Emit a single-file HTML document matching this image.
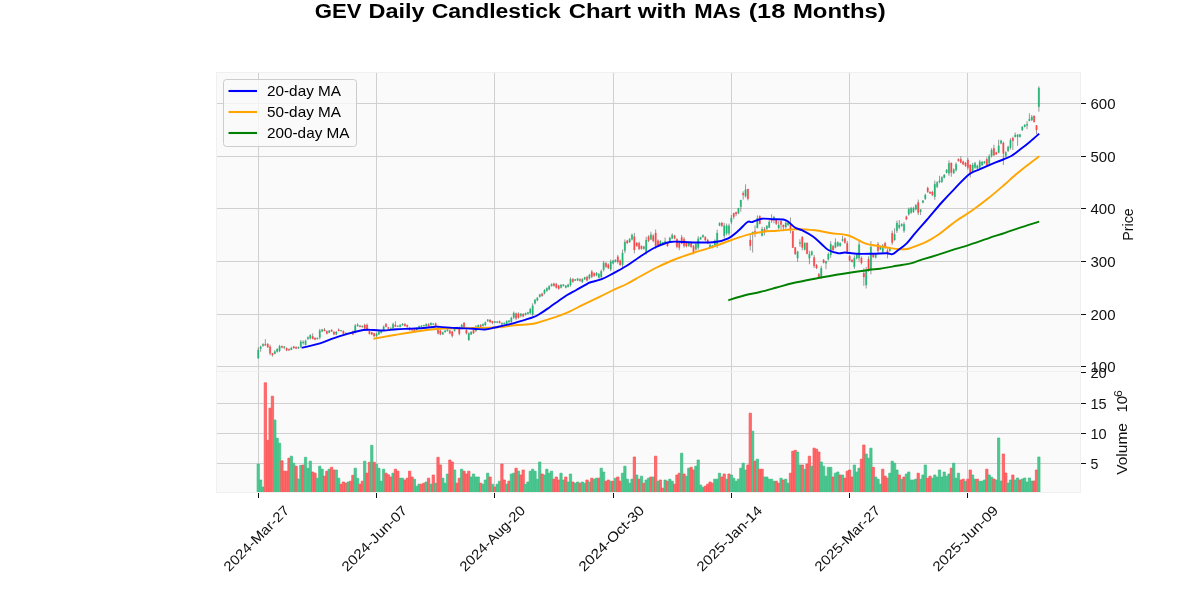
<!DOCTYPE html>
<html><head><meta charset="utf-8"><title>GEV Chart</title>
<style>html,body{margin:0;padding:0;background:#fff;width:1200px;height:600px;overflow:hidden}</style></head>
<body>
<svg width="1200" height="600" viewBox="0 0 1200 600" style="position:absolute;left:0;top:0;will-change:transform;font-family:'Liberation Sans',sans-serif">
<rect x="216" y="72" width="864" height="420" fill="#fafafa"/>
<path d="M258.5 72V492 M376.5 72V492 M494.5 72V492 M613.5 72V492 M731.5 72V492 M849.5 72V492 M967.5 72V492 M216 366.5H1080 M216 314.5H1080 M216 261.5H1080 M216 208.5H1080 M216 156.5H1080 M216 103.5H1080 M216 463.5H1080 M216 433.5H1080 M216 403.5H1080" stroke="#d0d0d0" stroke-width="1" fill="none" shape-rendering="crispEdges"/>
<path d="M216.5 72.5H1080.5V492.5H216.5ZM216 371.5H1080" stroke="#f0f0f0" stroke-width="1" fill="none" shape-rendering="crispEdges"/>
<path d="M257.10 492V464.0H259.40V492" fill="#4dc790" stroke="#3bbd84" stroke-width="0.7"/>
<path d="M259.47 492V480.0H261.77V492" fill="#4dc790" stroke="#3bbd84" stroke-width="0.7"/>
<path d="M261.83 492V487.0H264.13V492" fill="#4dc790" stroke="#3bbd84" stroke-width="0.7"/>
<path d="M264.20 492V382.8H266.50V492" fill="#fd6b6c" stroke="#fd4e50" stroke-width="0.7"/>
<path d="M266.56 492V440.3H268.86V492" fill="#fd6b6c" stroke="#fd4e50" stroke-width="0.7"/>
<path d="M268.93 492V408.2H271.23V492" fill="#fd6b6c" stroke="#fd4e50" stroke-width="0.7"/>
<path d="M271.29 492V396.2H273.59V492" fill="#fd6b6c" stroke="#fd4e50" stroke-width="0.7"/>
<path d="M273.66 492V420.0H275.96V492" fill="#4dc790" stroke="#3bbd84" stroke-width="0.7"/>
<path d="M276.02 492V438.2H278.32V492" fill="#4dc790" stroke="#3bbd84" stroke-width="0.7"/>
<path d="M278.39 492V443.2H280.69V492" fill="#4dc790" stroke="#3bbd84" stroke-width="0.7"/>
<path d="M280.75 492V460.8H283.05V492" fill="#fd6b6c" stroke="#fd4e50" stroke-width="0.7"/>
<path d="M283.12 492V471.2H285.42V492" fill="#fd6b6c" stroke="#fd4e50" stroke-width="0.7"/>
<path d="M285.49 492V471.2H287.79V492" fill="#fd6b6c" stroke="#fd4e50" stroke-width="0.7"/>
<path d="M287.85 492V458.2H290.15V492" fill="#fd6b6c" stroke="#fd4e50" stroke-width="0.7"/>
<path d="M290.22 492V456.2H292.52V492" fill="#4dc790" stroke="#3bbd84" stroke-width="0.7"/>
<path d="M292.58 492V463.3H294.88V492" fill="#4dc790" stroke="#3bbd84" stroke-width="0.7"/>
<path d="M294.95 492V466.2H297.25V492" fill="#fd6b6c" stroke="#fd4e50" stroke-width="0.7"/>
<path d="M297.31 492V479.0H299.61V492" fill="#4dc790" stroke="#3bbd84" stroke-width="0.7"/>
<path d="M299.68 492V465.3H301.98V492" fill="#4dc790" stroke="#3bbd84" stroke-width="0.7"/>
<path d="M302.04 492V465.0H304.34V492" fill="#fd6b6c" stroke="#fd4e50" stroke-width="0.7"/>
<path d="M304.41 492V457.3H306.71V492" fill="#4dc790" stroke="#3bbd84" stroke-width="0.7"/>
<path d="M306.78 492V468.3H309.08V492" fill="#4dc790" stroke="#3bbd84" stroke-width="0.7"/>
<path d="M309.14 492V461.2H311.44V492" fill="#4dc790" stroke="#3bbd84" stroke-width="0.7"/>
<path d="M311.51 492V472.0H313.81V492" fill="#fd6b6c" stroke="#fd4e50" stroke-width="0.7"/>
<path d="M313.87 492V473.2H316.17V492" fill="#fd6b6c" stroke="#fd4e50" stroke-width="0.7"/>
<path d="M316.24 492V478.2H318.54V492" fill="#4dc790" stroke="#3bbd84" stroke-width="0.7"/>
<path d="M318.60 492V466.2H320.90V492" fill="#4dc790" stroke="#3bbd84" stroke-width="0.7"/>
<path d="M320.97 492V469.2H323.27V492" fill="#4dc790" stroke="#3bbd84" stroke-width="0.7"/>
<path d="M323.33 492V476.2H325.63V492" fill="#fd6b6c" stroke="#fd4e50" stroke-width="0.7"/>
<path d="M325.70 492V471.2H328.00V492" fill="#fd6b6c" stroke="#fd4e50" stroke-width="0.7"/>
<path d="M328.07 492V469.2H330.37V492" fill="#4dc790" stroke="#3bbd84" stroke-width="0.7"/>
<path d="M330.43 492V467.3H332.73V492" fill="#fd6b6c" stroke="#fd4e50" stroke-width="0.7"/>
<path d="M332.80 492V470.0H335.10V492" fill="#fd6b6c" stroke="#fd4e50" stroke-width="0.7"/>
<path d="M335.16 492V470.0H337.46V492" fill="#4dc790" stroke="#3bbd84" stroke-width="0.7"/>
<path d="M337.53 492V478.2H339.83V492" fill="#4dc790" stroke="#3bbd84" stroke-width="0.7"/>
<path d="M339.89 492V484.2H342.19V492" fill="#fd6b6c" stroke="#fd4e50" stroke-width="0.7"/>
<path d="M342.26 492V482.0H344.56V492" fill="#fd6b6c" stroke="#fd4e50" stroke-width="0.7"/>
<path d="M344.62 492V483.2H346.92V492" fill="#fd6b6c" stroke="#fd4e50" stroke-width="0.7"/>
<path d="M346.99 492V482.0H349.29V492" fill="#4dc790" stroke="#3bbd84" stroke-width="0.7"/>
<path d="M349.35 492V481.2H351.65V492" fill="#fd6b6c" stroke="#fd4e50" stroke-width="0.7"/>
<path d="M351.72 492V475.3H354.02V492" fill="#fd6b6c" stroke="#fd4e50" stroke-width="0.7"/>
<path d="M354.09 492V468.2H356.39V492" fill="#4dc790" stroke="#3bbd84" stroke-width="0.7"/>
<path d="M356.45 492V478.2H358.75V492" fill="#4dc790" stroke="#3bbd84" stroke-width="0.7"/>
<path d="M358.82 492V484.2H361.12V492" fill="#fd6b6c" stroke="#fd4e50" stroke-width="0.7"/>
<path d="M361.18 492V481.2H363.48V492" fill="#fd6b6c" stroke="#fd4e50" stroke-width="0.7"/>
<path d="M363.55 492V461.2H365.85V492" fill="#4dc790" stroke="#3bbd84" stroke-width="0.7"/>
<path d="M365.91 492V473.2H368.21V492" fill="#fd6b6c" stroke="#fd4e50" stroke-width="0.7"/>
<path d="M368.28 492V462.3H370.58V492" fill="#fd6b6c" stroke="#fd4e50" stroke-width="0.7"/>
<path d="M370.64 492V445.3H372.94V492" fill="#4dc790" stroke="#3bbd84" stroke-width="0.7"/>
<path d="M373.01 492V462.3H375.31V492" fill="#fd6b6c" stroke="#fd4e50" stroke-width="0.7"/>
<path d="M375.38 492V464.2H377.67V492" fill="#4dc790" stroke="#3bbd84" stroke-width="0.7"/>
<path d="M377.74 492V468.3H380.04V492" fill="#4dc790" stroke="#3bbd84" stroke-width="0.7"/>
<path d="M380.11 492V481.2H382.41V492" fill="#4dc790" stroke="#3bbd84" stroke-width="0.7"/>
<path d="M382.47 492V469.2H384.77V492" fill="#4dc790" stroke="#3bbd84" stroke-width="0.7"/>
<path d="M384.84 492V473.2H387.14V492" fill="#fd6b6c" stroke="#fd4e50" stroke-width="0.7"/>
<path d="M387.20 492V474.8H389.50V492" fill="#fd6b6c" stroke="#fd4e50" stroke-width="0.7"/>
<path d="M389.57 492V477.0H391.87V492" fill="#fd6b6c" stroke="#fd4e50" stroke-width="0.7"/>
<path d="M391.93 492V473.2H394.23V492" fill="#4dc790" stroke="#3bbd84" stroke-width="0.7"/>
<path d="M394.30 492V469.2H396.60V492" fill="#fd6b6c" stroke="#fd4e50" stroke-width="0.7"/>
<path d="M396.66 492V471.2H398.96V492" fill="#fd6b6c" stroke="#fd4e50" stroke-width="0.7"/>
<path d="M399.03 492V478.2H401.33V492" fill="#4dc790" stroke="#3bbd84" stroke-width="0.7"/>
<path d="M401.40 492V478.2H403.70V492" fill="#4dc790" stroke="#3bbd84" stroke-width="0.7"/>
<path d="M403.76 492V480.0H406.06V492" fill="#fd6b6c" stroke="#fd4e50" stroke-width="0.7"/>
<path d="M406.13 492V478.2H408.43V492" fill="#fd6b6c" stroke="#fd4e50" stroke-width="0.7"/>
<path d="M408.49 492V471.2H410.79V492" fill="#fd6b6c" stroke="#fd4e50" stroke-width="0.7"/>
<path d="M410.86 492V477.0H413.16V492" fill="#fd6b6c" stroke="#fd4e50" stroke-width="0.7"/>
<path d="M413.22 492V479.2H415.52V492" fill="#4dc790" stroke="#3bbd84" stroke-width="0.7"/>
<path d="M415.59 492V486.2H417.89V492" fill="#4dc790" stroke="#3bbd84" stroke-width="0.7"/>
<path d="M417.95 492V484.2H420.25V492" fill="#4dc790" stroke="#3bbd84" stroke-width="0.7"/>
<path d="M420.32 492V484.2H422.62V492" fill="#fd6b6c" stroke="#fd4e50" stroke-width="0.7"/>
<path d="M422.69 492V483.2H424.99V492" fill="#fd6b6c" stroke="#fd4e50" stroke-width="0.7"/>
<path d="M425.05 492V482.0H427.35V492" fill="#4dc790" stroke="#3bbd84" stroke-width="0.7"/>
<path d="M427.42 492V478.2H429.72V492" fill="#fd6b6c" stroke="#fd4e50" stroke-width="0.7"/>
<path d="M429.78 492V484.2H432.08V492" fill="#4dc790" stroke="#3bbd84" stroke-width="0.7"/>
<path d="M432.15 492V475.0H434.45V492" fill="#fd6b6c" stroke="#fd4e50" stroke-width="0.7"/>
<path d="M434.51 492V483.2H436.81V492" fill="#4dc790" stroke="#3bbd84" stroke-width="0.7"/>
<path d="M436.88 492V457.3H439.18V492" fill="#fd6b6c" stroke="#fd4e50" stroke-width="0.7"/>
<path d="M439.24 492V465.0H441.54V492" fill="#fd6b6c" stroke="#fd4e50" stroke-width="0.7"/>
<path d="M441.61 492V478.2H443.91V492" fill="#4dc790" stroke="#3bbd84" stroke-width="0.7"/>
<path d="M443.97 492V483.2H446.27V492" fill="#4dc790" stroke="#3bbd84" stroke-width="0.7"/>
<path d="M446.34 492V474.0H448.64V492" fill="#4dc790" stroke="#3bbd84" stroke-width="0.7"/>
<path d="M448.71 492V460.0H451.01V492" fill="#fd6b6c" stroke="#fd4e50" stroke-width="0.7"/>
<path d="M451.07 492V462.0H453.37V492" fill="#fd6b6c" stroke="#fd4e50" stroke-width="0.7"/>
<path d="M453.44 492V470.0H455.74V492" fill="#4dc790" stroke="#3bbd84" stroke-width="0.7"/>
<path d="M455.80 492V483.2H458.10V492" fill="#fd6b6c" stroke="#fd4e50" stroke-width="0.7"/>
<path d="M458.17 492V478.2H460.47V492" fill="#fd6b6c" stroke="#fd4e50" stroke-width="0.7"/>
<path d="M460.53 492V469.2H462.83V492" fill="#4dc790" stroke="#3bbd84" stroke-width="0.7"/>
<path d="M462.90 492V471.2H465.20V492" fill="#fd6b6c" stroke="#fd4e50" stroke-width="0.7"/>
<path d="M465.26 492V474.0H467.56V492" fill="#fd6b6c" stroke="#fd4e50" stroke-width="0.7"/>
<path d="M467.63 492V471.2H469.93V492" fill="#fd6b6c" stroke="#fd4e50" stroke-width="0.7"/>
<path d="M470.00 492V477.0H472.29V492" fill="#4dc790" stroke="#3bbd84" stroke-width="0.7"/>
<path d="M472.36 492V474.0H474.66V492" fill="#4dc790" stroke="#3bbd84" stroke-width="0.7"/>
<path d="M474.73 492V477.0H477.03V492" fill="#4dc790" stroke="#3bbd84" stroke-width="0.7"/>
<path d="M477.09 492V477.0H479.39V492" fill="#4dc790" stroke="#3bbd84" stroke-width="0.7"/>
<path d="M479.46 492V483.2H481.76V492" fill="#fd6b6c" stroke="#fd4e50" stroke-width="0.7"/>
<path d="M481.82 492V484.2H484.12V492" fill="#4dc790" stroke="#3bbd84" stroke-width="0.7"/>
<path d="M484.19 492V480.0H486.49V492" fill="#4dc790" stroke="#3bbd84" stroke-width="0.7"/>
<path d="M486.55 492V473.2H488.85V492" fill="#4dc790" stroke="#3bbd84" stroke-width="0.7"/>
<path d="M488.92 492V477.0H491.22V492" fill="#fd6b6c" stroke="#fd4e50" stroke-width="0.7"/>
<path d="M491.28 492V484.2H493.58V492" fill="#4dc790" stroke="#3bbd84" stroke-width="0.7"/>
<path d="M493.65 492V487.0H495.95V492" fill="#fd6b6c" stroke="#fd4e50" stroke-width="0.7"/>
<path d="M496.02 492V484.2H498.32V492" fill="#4dc790" stroke="#3bbd84" stroke-width="0.7"/>
<path d="M498.38 492V481.2H500.68V492" fill="#4dc790" stroke="#3bbd84" stroke-width="0.7"/>
<path d="M500.75 492V464.0H503.05V492" fill="#fd6b6c" stroke="#fd4e50" stroke-width="0.7"/>
<path d="M503.11 492V480.0H505.41V492" fill="#fd6b6c" stroke="#fd4e50" stroke-width="0.7"/>
<path d="M505.48 492V484.2H507.78V492" fill="#4dc790" stroke="#3bbd84" stroke-width="0.7"/>
<path d="M507.84 492V481.2H510.14V492" fill="#fd6b6c" stroke="#fd4e50" stroke-width="0.7"/>
<path d="M510.21 492V474.0H512.51V492" fill="#4dc790" stroke="#3bbd84" stroke-width="0.7"/>
<path d="M512.57 492V473.2H514.87V492" fill="#4dc790" stroke="#3bbd84" stroke-width="0.7"/>
<path d="M514.94 492V468.2H517.24V492" fill="#fd6b6c" stroke="#fd4e50" stroke-width="0.7"/>
<path d="M517.30 492V471.2H519.60V492" fill="#4dc790" stroke="#3bbd84" stroke-width="0.7"/>
<path d="M519.67 492V475.0H521.97V492" fill="#fd6b6c" stroke="#fd4e50" stroke-width="0.7"/>
<path d="M522.04 492V470.0H524.34V492" fill="#fd6b6c" stroke="#fd4e50" stroke-width="0.7"/>
<path d="M524.40 492V484.2H526.70V492" fill="#4dc790" stroke="#3bbd84" stroke-width="0.7"/>
<path d="M526.77 492V482.0H529.07V492" fill="#4dc790" stroke="#3bbd84" stroke-width="0.7"/>
<path d="M529.13 492V471.2H531.43V492" fill="#4dc790" stroke="#3bbd84" stroke-width="0.7"/>
<path d="M531.50 492V469.2H533.80V492" fill="#4dc790" stroke="#3bbd84" stroke-width="0.7"/>
<path d="M533.86 492V471.2H536.16V492" fill="#4dc790" stroke="#3bbd84" stroke-width="0.7"/>
<path d="M536.23 492V479.2H538.53V492" fill="#4dc790" stroke="#3bbd84" stroke-width="0.7"/>
<path d="M538.59 492V462.0H540.89V492" fill="#4dc790" stroke="#3bbd84" stroke-width="0.7"/>
<path d="M540.96 492V474.0H543.26V492" fill="#fd6b6c" stroke="#fd4e50" stroke-width="0.7"/>
<path d="M543.33 492V475.0H545.63V492" fill="#4dc790" stroke="#3bbd84" stroke-width="0.7"/>
<path d="M545.69 492V469.2H547.99V492" fill="#4dc790" stroke="#3bbd84" stroke-width="0.7"/>
<path d="M548.06 492V473.2H550.36V492" fill="#4dc790" stroke="#3bbd84" stroke-width="0.7"/>
<path d="M550.42 492V471.2H552.72V492" fill="#4dc790" stroke="#3bbd84" stroke-width="0.7"/>
<path d="M552.79 492V479.2H555.09V492" fill="#fd6b6c" stroke="#fd4e50" stroke-width="0.7"/>
<path d="M555.15 492V477.0H557.45V492" fill="#fd6b6c" stroke="#fd4e50" stroke-width="0.7"/>
<path d="M557.52 492V480.0H559.82V492" fill="#fd6b6c" stroke="#fd4e50" stroke-width="0.7"/>
<path d="M559.88 492V473.2H562.18V492" fill="#4dc790" stroke="#3bbd84" stroke-width="0.7"/>
<path d="M562.25 492V480.0H564.55V492" fill="#4dc790" stroke="#3bbd84" stroke-width="0.7"/>
<path d="M564.62 492V477.0H566.91V492" fill="#fd6b6c" stroke="#fd4e50" stroke-width="0.7"/>
<path d="M566.98 492V482.0H569.28V492" fill="#4dc790" stroke="#3bbd84" stroke-width="0.7"/>
<path d="M569.35 492V474.0H571.65V492" fill="#4dc790" stroke="#3bbd84" stroke-width="0.7"/>
<path d="M571.71 492V482.0H574.01V492" fill="#fd6b6c" stroke="#fd4e50" stroke-width="0.7"/>
<path d="M574.08 492V483.2H576.38V492" fill="#4dc790" stroke="#3bbd84" stroke-width="0.7"/>
<path d="M576.44 492V482.0H578.74V492" fill="#4dc790" stroke="#3bbd84" stroke-width="0.7"/>
<path d="M578.81 492V483.2H581.11V492" fill="#fd6b6c" stroke="#fd4e50" stroke-width="0.7"/>
<path d="M581.17 492V482.0H583.47V492" fill="#4dc790" stroke="#3bbd84" stroke-width="0.7"/>
<path d="M583.54 492V483.2H585.84V492" fill="#4dc790" stroke="#3bbd84" stroke-width="0.7"/>
<path d="M585.90 492V480.0H588.20V492" fill="#fd6b6c" stroke="#fd4e50" stroke-width="0.7"/>
<path d="M588.27 492V482.0H590.57V492" fill="#4dc790" stroke="#3bbd84" stroke-width="0.7"/>
<path d="M590.64 492V478.2H592.94V492" fill="#fd6b6c" stroke="#fd4e50" stroke-width="0.7"/>
<path d="M593.00 492V479.2H595.30V492" fill="#4dc790" stroke="#3bbd84" stroke-width="0.7"/>
<path d="M595.37 492V478.2H597.67V492" fill="#4dc790" stroke="#3bbd84" stroke-width="0.7"/>
<path d="M597.73 492V478.2H600.03V492" fill="#fd6b6c" stroke="#fd4e50" stroke-width="0.7"/>
<path d="M600.10 492V468.2H602.40V492" fill="#4dc790" stroke="#3bbd84" stroke-width="0.7"/>
<path d="M602.46 492V472.0H604.76V492" fill="#4dc790" stroke="#3bbd84" stroke-width="0.7"/>
<path d="M604.83 492V481.2H607.13V492" fill="#fd6b6c" stroke="#fd4e50" stroke-width="0.7"/>
<path d="M607.19 492V480.0H609.49V492" fill="#fd6b6c" stroke="#fd4e50" stroke-width="0.7"/>
<path d="M609.56 492V481.2H611.86V492" fill="#4dc790" stroke="#3bbd84" stroke-width="0.7"/>
<path d="M611.93 492V481.2H614.23V492" fill="#fd6b6c" stroke="#fd4e50" stroke-width="0.7"/>
<path d="M614.29 492V478.2H616.59V492" fill="#4dc790" stroke="#3bbd84" stroke-width="0.7"/>
<path d="M616.66 492V477.0H618.96V492" fill="#fd6b6c" stroke="#fd4e50" stroke-width="0.7"/>
<path d="M619.02 492V481.2H621.32V492" fill="#fd6b6c" stroke="#fd4e50" stroke-width="0.7"/>
<path d="M621.39 492V473.2H623.69V492" fill="#4dc790" stroke="#3bbd84" stroke-width="0.7"/>
<path d="M623.75 492V466.2H626.05V492" fill="#4dc790" stroke="#3bbd84" stroke-width="0.7"/>
<path d="M626.12 492V479.2H628.42V492" fill="#4dc790" stroke="#3bbd84" stroke-width="0.7"/>
<path d="M628.48 492V483.2H630.78V492" fill="#4dc790" stroke="#3bbd84" stroke-width="0.7"/>
<path d="M630.85 492V479.2H633.15V492" fill="#4dc790" stroke="#3bbd84" stroke-width="0.7"/>
<path d="M633.21 492V457.0H635.51V492" fill="#fd6b6c" stroke="#fd4e50" stroke-width="0.7"/>
<path d="M635.58 492V475.0H637.88V492" fill="#4dc790" stroke="#3bbd84" stroke-width="0.7"/>
<path d="M637.95 492V479.2H640.25V492" fill="#fd6b6c" stroke="#fd4e50" stroke-width="0.7"/>
<path d="M640.31 492V476.2H642.61V492" fill="#4dc790" stroke="#3bbd84" stroke-width="0.7"/>
<path d="M642.68 492V483.2H644.98V492" fill="#fd6b6c" stroke="#fd4e50" stroke-width="0.7"/>
<path d="M645.04 492V480.0H647.34V492" fill="#4dc790" stroke="#3bbd84" stroke-width="0.7"/>
<path d="M647.41 492V478.2H649.71V492" fill="#4dc790" stroke="#3bbd84" stroke-width="0.7"/>
<path d="M649.77 492V477.0H652.07V492" fill="#fd6b6c" stroke="#fd4e50" stroke-width="0.7"/>
<path d="M652.14 492V477.0H654.44V492" fill="#4dc790" stroke="#3bbd84" stroke-width="0.7"/>
<path d="M654.50 492V456.2H656.80V492" fill="#fd6b6c" stroke="#fd4e50" stroke-width="0.7"/>
<path d="M656.87 492V481.2H659.17V492" fill="#4dc790" stroke="#3bbd84" stroke-width="0.7"/>
<path d="M659.24 492V480.0H661.53V492" fill="#fd6b6c" stroke="#fd4e50" stroke-width="0.7"/>
<path d="M661.60 492V488.2H663.90V492" fill="#fd6b6c" stroke="#fd4e50" stroke-width="0.7"/>
<path d="M663.97 492V480.0H666.27V492" fill="#4dc790" stroke="#3bbd84" stroke-width="0.7"/>
<path d="M666.33 492V481.2H668.63V492" fill="#fd6b6c" stroke="#fd4e50" stroke-width="0.7"/>
<path d="M668.70 492V479.2H671.00V492" fill="#4dc790" stroke="#3bbd84" stroke-width="0.7"/>
<path d="M671.06 492V481.2H673.36V492" fill="#4dc790" stroke="#3bbd84" stroke-width="0.7"/>
<path d="M673.43 492V484.2H675.73V492" fill="#fd6b6c" stroke="#fd4e50" stroke-width="0.7"/>
<path d="M675.79 492V475.0H678.09V492" fill="#fd6b6c" stroke="#fd4e50" stroke-width="0.7"/>
<path d="M678.16 492V473.2H680.46V492" fill="#fd6b6c" stroke="#fd4e50" stroke-width="0.7"/>
<path d="M680.52 492V453.2H682.82V492" fill="#4dc790" stroke="#3bbd84" stroke-width="0.7"/>
<path d="M682.89 492V474.0H685.19V492" fill="#fd6b6c" stroke="#fd4e50" stroke-width="0.7"/>
<path d="M685.26 492V476.2H687.56V492" fill="#4dc790" stroke="#3bbd84" stroke-width="0.7"/>
<path d="M687.62 492V468.2H689.92V492" fill="#4dc790" stroke="#3bbd84" stroke-width="0.7"/>
<path d="M689.99 492V467.3H692.29V492" fill="#fd6b6c" stroke="#fd4e50" stroke-width="0.7"/>
<path d="M692.35 492V470.0H694.65V492" fill="#fd6b6c" stroke="#fd4e50" stroke-width="0.7"/>
<path d="M694.72 492V466.2H697.02V492" fill="#4dc790" stroke="#3bbd84" stroke-width="0.7"/>
<path d="M697.08 492V460.0H699.38V492" fill="#4dc790" stroke="#3bbd84" stroke-width="0.7"/>
<path d="M699.45 492V485.0H701.75V492" fill="#4dc790" stroke="#3bbd84" stroke-width="0.7"/>
<path d="M701.81 492V487.3H704.11V492" fill="#4dc790" stroke="#3bbd84" stroke-width="0.7"/>
<path d="M704.18 492V486.2H706.48V492" fill="#fd6b6c" stroke="#fd4e50" stroke-width="0.7"/>
<path d="M706.54 492V484.2H708.84V492" fill="#fd6b6c" stroke="#fd4e50" stroke-width="0.7"/>
<path d="M708.91 492V482.0H711.21V492" fill="#fd6b6c" stroke="#fd4e50" stroke-width="0.7"/>
<path d="M711.28 492V483.2H713.58V492" fill="#fd6b6c" stroke="#fd4e50" stroke-width="0.7"/>
<path d="M713.64 492V479.2H715.94V492" fill="#4dc790" stroke="#3bbd84" stroke-width="0.7"/>
<path d="M716.01 492V479.2H718.31V492" fill="#4dc790" stroke="#3bbd84" stroke-width="0.7"/>
<path d="M718.37 492V473.2H720.67V492" fill="#4dc790" stroke="#3bbd84" stroke-width="0.7"/>
<path d="M720.74 492V477.0H723.04V492" fill="#fd6b6c" stroke="#fd4e50" stroke-width="0.7"/>
<path d="M723.10 492V474.0H725.40V492" fill="#fd6b6c" stroke="#fd4e50" stroke-width="0.7"/>
<path d="M725.47 492V479.2H727.77V492" fill="#4dc790" stroke="#3bbd84" stroke-width="0.7"/>
<path d="M727.83 492V474.0H730.13V492" fill="#fd6b6c" stroke="#fd4e50" stroke-width="0.7"/>
<path d="M730.20 492V475.0H732.50V492" fill="#4dc790" stroke="#3bbd84" stroke-width="0.7"/>
<path d="M732.57 492V478.2H734.87V492" fill="#4dc790" stroke="#3bbd84" stroke-width="0.7"/>
<path d="M734.93 492V481.2H737.23V492" fill="#4dc790" stroke="#3bbd84" stroke-width="0.7"/>
<path d="M737.30 492V479.2H739.60V492" fill="#4dc790" stroke="#3bbd84" stroke-width="0.7"/>
<path d="M739.66 492V468.2H741.96V492" fill="#4dc790" stroke="#3bbd84" stroke-width="0.7"/>
<path d="M742.03 492V463.2H744.33V492" fill="#4dc790" stroke="#3bbd84" stroke-width="0.7"/>
<path d="M744.39 492V470.0H746.69V492" fill="#4dc790" stroke="#3bbd84" stroke-width="0.7"/>
<path d="M746.76 492V465.0H749.06V492" fill="#fd6b6c" stroke="#fd4e50" stroke-width="0.7"/>
<path d="M749.12 492V413.2H751.42V492" fill="#fd6b6c" stroke="#fd4e50" stroke-width="0.7"/>
<path d="M751.49 492V431.2H753.79V492" fill="#4dc790" stroke="#3bbd84" stroke-width="0.7"/>
<path d="M753.86 492V461.2H756.15V492" fill="#fd6b6c" stroke="#fd4e50" stroke-width="0.7"/>
<path d="M756.22 492V459.2H758.52V492" fill="#4dc790" stroke="#3bbd84" stroke-width="0.7"/>
<path d="M758.59 492V469.2H760.89V492" fill="#fd6b6c" stroke="#fd4e50" stroke-width="0.7"/>
<path d="M760.95 492V469.2H763.25V492" fill="#fd6b6c" stroke="#fd4e50" stroke-width="0.7"/>
<path d="M763.32 492V477.0H765.62V492" fill="#4dc790" stroke="#3bbd84" stroke-width="0.7"/>
<path d="M765.68 492V477.0H767.98V492" fill="#4dc790" stroke="#3bbd84" stroke-width="0.7"/>
<path d="M768.05 492V479.2H770.35V492" fill="#4dc790" stroke="#3bbd84" stroke-width="0.7"/>
<path d="M770.41 492V479.2H772.71V492" fill="#4dc790" stroke="#3bbd84" stroke-width="0.7"/>
<path d="M772.78 492V481.2H775.08V492" fill="#4dc790" stroke="#3bbd84" stroke-width="0.7"/>
<path d="M775.14 492V481.2H777.44V492" fill="#fd6b6c" stroke="#fd4e50" stroke-width="0.7"/>
<path d="M777.51 492V483.2H779.81V492" fill="#fd6b6c" stroke="#fd4e50" stroke-width="0.7"/>
<path d="M779.88 492V478.2H782.18V492" fill="#4dc790" stroke="#3bbd84" stroke-width="0.7"/>
<path d="M782.24 492V480.0H784.54V492" fill="#fd6b6c" stroke="#fd4e50" stroke-width="0.7"/>
<path d="M784.61 492V479.2H786.91V492" fill="#4dc790" stroke="#3bbd84" stroke-width="0.7"/>
<path d="M786.97 492V483.2H789.27V492" fill="#4dc790" stroke="#3bbd84" stroke-width="0.7"/>
<path d="M789.34 492V473.2H791.64V492" fill="#fd6b6c" stroke="#fd4e50" stroke-width="0.7"/>
<path d="M791.70 492V451.2H794.00V492" fill="#fd6b6c" stroke="#fd4e50" stroke-width="0.7"/>
<path d="M794.07 492V450.3H796.37V492" fill="#fd6b6c" stroke="#fd4e50" stroke-width="0.7"/>
<path d="M796.43 492V452.0H798.73V492" fill="#4dc790" stroke="#3bbd84" stroke-width="0.7"/>
<path d="M798.80 492V465.0H801.10V492" fill="#4dc790" stroke="#3bbd84" stroke-width="0.7"/>
<path d="M801.16 492V465.0H803.46V492" fill="#fd6b6c" stroke="#fd4e50" stroke-width="0.7"/>
<path d="M803.53 492V469.2H805.83V492" fill="#4dc790" stroke="#3bbd84" stroke-width="0.7"/>
<path d="M805.90 492V464.0H808.20V492" fill="#fd6b6c" stroke="#fd4e50" stroke-width="0.7"/>
<path d="M808.26 492V456.2H810.56V492" fill="#fd6b6c" stroke="#fd4e50" stroke-width="0.7"/>
<path d="M810.63 492V466.2H812.93V492" fill="#4dc790" stroke="#3bbd84" stroke-width="0.7"/>
<path d="M812.99 492V448.2H815.29V492" fill="#fd6b6c" stroke="#fd4e50" stroke-width="0.7"/>
<path d="M815.36 492V449.2H817.66V492" fill="#fd6b6c" stroke="#fd4e50" stroke-width="0.7"/>
<path d="M817.72 492V452.0H820.02V492" fill="#fd6b6c" stroke="#fd4e50" stroke-width="0.7"/>
<path d="M820.09 492V462.0H822.39V492" fill="#4dc790" stroke="#3bbd84" stroke-width="0.7"/>
<path d="M822.45 492V466.2H824.75V492" fill="#4dc790" stroke="#3bbd84" stroke-width="0.7"/>
<path d="M824.82 492V476.2H827.12V492" fill="#4dc790" stroke="#3bbd84" stroke-width="0.7"/>
<path d="M827.19 492V467.3H829.49V492" fill="#4dc790" stroke="#3bbd84" stroke-width="0.7"/>
<path d="M829.55 492V467.3H831.85V492" fill="#4dc790" stroke="#3bbd84" stroke-width="0.7"/>
<path d="M831.92 492V477.0H834.22V492" fill="#fd6b6c" stroke="#fd4e50" stroke-width="0.7"/>
<path d="M834.28 492V473.2H836.58V492" fill="#4dc790" stroke="#3bbd84" stroke-width="0.7"/>
<path d="M836.65 492V472.0H838.95V492" fill="#4dc790" stroke="#3bbd84" stroke-width="0.7"/>
<path d="M839.01 492V475.0H841.31V492" fill="#fd6b6c" stroke="#fd4e50" stroke-width="0.7"/>
<path d="M841.38 492V475.0H843.68V492" fill="#4dc790" stroke="#3bbd84" stroke-width="0.7"/>
<path d="M843.74 492V478.2H846.04V492" fill="#fd6b6c" stroke="#fd4e50" stroke-width="0.7"/>
<path d="M846.11 492V471.2H848.41V492" fill="#fd6b6c" stroke="#fd4e50" stroke-width="0.7"/>
<path d="M848.48 492V470.0H850.77V492" fill="#fd6b6c" stroke="#fd4e50" stroke-width="0.7"/>
<path d="M850.84 492V477.0H853.14V492" fill="#fd6b6c" stroke="#fd4e50" stroke-width="0.7"/>
<path d="M853.21 492V465.0H855.51V492" fill="#4dc790" stroke="#3bbd84" stroke-width="0.7"/>
<path d="M855.57 492V472.0H857.87V492" fill="#4dc790" stroke="#3bbd84" stroke-width="0.7"/>
<path d="M857.94 492V468.2H860.24V492" fill="#4dc790" stroke="#3bbd84" stroke-width="0.7"/>
<path d="M860.30 492V459.2H862.60V492" fill="#fd6b6c" stroke="#fd4e50" stroke-width="0.7"/>
<path d="M862.67 492V445.0H864.97V492" fill="#fd6b6c" stroke="#fd4e50" stroke-width="0.7"/>
<path d="M865.03 492V454.0H867.33V492" fill="#4dc790" stroke="#3bbd84" stroke-width="0.7"/>
<path d="M867.40 492V458.2H869.70V492" fill="#4dc790" stroke="#3bbd84" stroke-width="0.7"/>
<path d="M869.76 492V448.2H872.06V492" fill="#4dc790" stroke="#3bbd84" stroke-width="0.7"/>
<path d="M872.13 492V467.3H874.43V492" fill="#fd6b6c" stroke="#fd4e50" stroke-width="0.7"/>
<path d="M874.50 492V477.0H876.80V492" fill="#4dc790" stroke="#3bbd84" stroke-width="0.7"/>
<path d="M876.86 492V479.2H879.16V492" fill="#4dc790" stroke="#3bbd84" stroke-width="0.7"/>
<path d="M879.23 492V484.2H881.53V492" fill="#4dc790" stroke="#3bbd84" stroke-width="0.7"/>
<path d="M881.59 492V469.2H883.89V492" fill="#fd6b6c" stroke="#fd4e50" stroke-width="0.7"/>
<path d="M883.96 492V476.2H886.26V492" fill="#fd6b6c" stroke="#fd4e50" stroke-width="0.7"/>
<path d="M886.32 492V478.2H888.62V492" fill="#fd6b6c" stroke="#fd4e50" stroke-width="0.7"/>
<path d="M888.69 492V473.2H890.99V492" fill="#4dc790" stroke="#3bbd84" stroke-width="0.7"/>
<path d="M891.05 492V461.2H893.35V492" fill="#4dc790" stroke="#3bbd84" stroke-width="0.7"/>
<path d="M893.42 492V463.2H895.72V492" fill="#4dc790" stroke="#3bbd84" stroke-width="0.7"/>
<path d="M895.78 492V470.0H898.08V492" fill="#4dc790" stroke="#3bbd84" stroke-width="0.7"/>
<path d="M898.15 492V475.0H900.45V492" fill="#fd6b6c" stroke="#fd4e50" stroke-width="0.7"/>
<path d="M900.52 492V479.2H902.82V492" fill="#4dc790" stroke="#3bbd84" stroke-width="0.7"/>
<path d="M902.88 492V477.0H905.18V492" fill="#fd6b6c" stroke="#fd4e50" stroke-width="0.7"/>
<path d="M905.25 492V474.0H907.55V492" fill="#4dc790" stroke="#3bbd84" stroke-width="0.7"/>
<path d="M907.61 492V472.0H909.91V492" fill="#4dc790" stroke="#3bbd84" stroke-width="0.7"/>
<path d="M909.98 492V480.0H912.28V492" fill="#4dc790" stroke="#3bbd84" stroke-width="0.7"/>
<path d="M912.34 492V480.0H914.64V492" fill="#4dc790" stroke="#3bbd84" stroke-width="0.7"/>
<path d="M914.71 492V479.2H917.01V492" fill="#4dc790" stroke="#3bbd84" stroke-width="0.7"/>
<path d="M917.07 492V473.2H919.37V492" fill="#fd6b6c" stroke="#fd4e50" stroke-width="0.7"/>
<path d="M919.44 492V479.2H921.74V492" fill="#4dc790" stroke="#3bbd84" stroke-width="0.7"/>
<path d="M921.81 492V475.0H924.11V492" fill="#4dc790" stroke="#3bbd84" stroke-width="0.7"/>
<path d="M924.17 492V465.0H926.47V492" fill="#4dc790" stroke="#3bbd84" stroke-width="0.7"/>
<path d="M926.54 492V478.2H928.84V492" fill="#fd6b6c" stroke="#fd4e50" stroke-width="0.7"/>
<path d="M928.90 492V476.2H931.20V492" fill="#fd6b6c" stroke="#fd4e50" stroke-width="0.7"/>
<path d="M931.27 492V478.2H933.57V492" fill="#4dc790" stroke="#3bbd84" stroke-width="0.7"/>
<path d="M933.63 492V475.0H935.93V492" fill="#4dc790" stroke="#3bbd84" stroke-width="0.7"/>
<path d="M936.00 492V477.0H938.30V492" fill="#4dc790" stroke="#3bbd84" stroke-width="0.7"/>
<path d="M938.36 492V470.0H940.66V492" fill="#4dc790" stroke="#3bbd84" stroke-width="0.7"/>
<path d="M940.73 492V477.0H943.03V492" fill="#4dc790" stroke="#3bbd84" stroke-width="0.7"/>
<path d="M943.10 492V472.0H945.39V492" fill="#4dc790" stroke="#3bbd84" stroke-width="0.7"/>
<path d="M945.46 492V476.2H947.76V492" fill="#4dc790" stroke="#3bbd84" stroke-width="0.7"/>
<path d="M947.83 492V474.0H950.13V492" fill="#4dc790" stroke="#3bbd84" stroke-width="0.7"/>
<path d="M950.19 492V468.2H952.49V492" fill="#fd6b6c" stroke="#fd4e50" stroke-width="0.7"/>
<path d="M952.56 492V463.2H954.86V492" fill="#4dc790" stroke="#3bbd84" stroke-width="0.7"/>
<path d="M954.92 492V478.2H957.22V492" fill="#4dc790" stroke="#3bbd84" stroke-width="0.7"/>
<path d="M957.29 492V473.2H959.59V492" fill="#4dc790" stroke="#3bbd84" stroke-width="0.7"/>
<path d="M959.65 492V480.0H961.95V492" fill="#fd6b6c" stroke="#fd4e50" stroke-width="0.7"/>
<path d="M962.02 492V479.2H964.32V492" fill="#fd6b6c" stroke="#fd4e50" stroke-width="0.7"/>
<path d="M964.38 492V481.2H966.68V492" fill="#4dc790" stroke="#3bbd84" stroke-width="0.7"/>
<path d="M966.75 492V479.2H969.05V492" fill="#fd6b6c" stroke="#fd4e50" stroke-width="0.7"/>
<path d="M969.12 492V470.0H971.42V492" fill="#fd6b6c" stroke="#fd4e50" stroke-width="0.7"/>
<path d="M971.48 492V475.0H973.78V492" fill="#4dc790" stroke="#3bbd84" stroke-width="0.7"/>
<path d="M973.85 492V479.2H976.15V492" fill="#4dc790" stroke="#3bbd84" stroke-width="0.7"/>
<path d="M976.21 492V479.2H978.51V492" fill="#fd6b6c" stroke="#fd4e50" stroke-width="0.7"/>
<path d="M978.58 492V481.2H980.88V492" fill="#4dc790" stroke="#3bbd84" stroke-width="0.7"/>
<path d="M980.94 492V481.2H983.24V492" fill="#4dc790" stroke="#3bbd84" stroke-width="0.7"/>
<path d="M983.31 492V480.0H985.61V492" fill="#4dc790" stroke="#3bbd84" stroke-width="0.7"/>
<path d="M985.67 492V469.2H987.97V492" fill="#fd6b6c" stroke="#fd4e50" stroke-width="0.7"/>
<path d="M988.04 492V475.0H990.34V492" fill="#4dc790" stroke="#3bbd84" stroke-width="0.7"/>
<path d="M990.40 492V477.2H992.70V492" fill="#4dc790" stroke="#3bbd84" stroke-width="0.7"/>
<path d="M992.77 492V479.0H995.07V492" fill="#fd6b6c" stroke="#fd4e50" stroke-width="0.7"/>
<path d="M995.14 492V480.0H997.44V492" fill="#4dc790" stroke="#3bbd84" stroke-width="0.7"/>
<path d="M997.50 492V438.0H999.80V492" fill="#4dc790" stroke="#3bbd84" stroke-width="0.7"/>
<path d="M999.87 492V481.0H1002.17V492" fill="#4dc790" stroke="#3bbd84" stroke-width="0.7"/>
<path d="M1002.23 492V454.0H1004.53V492" fill="#fd6b6c" stroke="#fd4e50" stroke-width="0.7"/>
<path d="M1004.60 492V473.0H1006.90V492" fill="#fd6b6c" stroke="#fd4e50" stroke-width="0.7"/>
<path d="M1006.96 492V483.0H1009.26V492" fill="#4dc790" stroke="#3bbd84" stroke-width="0.7"/>
<path d="M1009.33 492V480.0H1011.63V492" fill="#4dc790" stroke="#3bbd84" stroke-width="0.7"/>
<path d="M1011.69 492V475.0H1013.99V492" fill="#fd6b6c" stroke="#fd4e50" stroke-width="0.7"/>
<path d="M1014.06 492V480.0H1016.36V492" fill="#4dc790" stroke="#3bbd84" stroke-width="0.7"/>
<path d="M1016.43 492V478.0H1018.73V492" fill="#4dc790" stroke="#3bbd84" stroke-width="0.7"/>
<path d="M1018.79 492V480.0H1021.09V492" fill="#fd6b6c" stroke="#fd4e50" stroke-width="0.7"/>
<path d="M1021.16 492V479.0H1023.46V492" fill="#4dc790" stroke="#3bbd84" stroke-width="0.7"/>
<path d="M1023.52 492V478.0H1025.82V492" fill="#4dc790" stroke="#3bbd84" stroke-width="0.7"/>
<path d="M1025.89 492V482.0H1028.19V492" fill="#4dc790" stroke="#3bbd84" stroke-width="0.7"/>
<path d="M1028.25 492V478.0H1030.55V492" fill="#4dc790" stroke="#3bbd84" stroke-width="0.7"/>
<path d="M1030.62 492V481.0H1032.92V492" fill="#4dc790" stroke="#3bbd84" stroke-width="0.7"/>
<path d="M1032.98 492V481.0H1035.28V492" fill="#fd6b6c" stroke="#fd4e50" stroke-width="0.7"/>
<path d="M1035.35 492V470.0H1037.65V492" fill="#fd6b6c" stroke="#fd4e50" stroke-width="0.7"/>
<path d="M1037.71 492V457.0H1040.02V492" fill="#4dc790" stroke="#3bbd84" stroke-width="0.7"/>
<path d="M258.25 347.5V358.3 M260.62 345.8V351.7 M262.98 343.3V346.7 M265.35 339.2V345.8 M267.71 343.1V348.0 M270.08 344.6V355.2 M272.44 353.3V356.7 M274.81 350.0V354.2 M277.17 348.1V352.6 M279.54 344.8V352.2 M281.90 345.6V348.2 M284.27 346.3V349.2 M286.64 347.4V351.2 M289.00 348.5V350.8 M291.37 346.7V350.0 M293.73 345.9V348.7 M296.10 346.4V349.2 M298.46 346.5V348.8 M300.83 340.0V348.2 M303.19 340.3V344.7 M305.56 339.7V345.3 M307.93 336.3V340.0 M310.29 334.2V339.4 M312.66 333.3V339.3 M315.02 337.2V340.2 M317.39 337.5V339.7 M319.75 328.8V339.4 M322.12 328.9V332.1 M324.48 328.0V331.3 M326.85 330.4V334.4 M329.22 330.0V333.3 M331.58 329.3V332.0 M333.95 331.0V335.2 M336.31 331.0V335.2 M338.68 328.3V331.3 M341.04 330.0V331.5 M343.41 330.4V334.4 M345.77 332.4V334.2 M348.14 332.5V334.0 M350.50 332.1V333.7 M352.87 330.6V335.1 M355.24 324.0V333.4 M357.60 323.3V326.7 M359.97 325.2V327.2 M362.33 325.4V327.6 M364.70 323.7V329.2 M367.06 323.5V330.7 M369.43 330.3V334.6 M371.79 331.6V335.1 M374.16 333.0V337.0 M376.52 332.7V336.9 M378.89 330.6V335.1 M381.26 330.6V333.4 M383.62 325.5V330.7 M385.99 323.0V327.2 M388.35 326.9V329.1 M390.72 327.5V329.0 M393.08 322.7V329.6 M395.45 321.3V327.0 M397.81 325.5V327.0 M400.18 324.2V327.4 M402.55 323.0V325.8 M404.91 323.0V326.3 M407.28 324.6V327.6 M409.64 327.1V330.6 M412.01 328.5V330.8 M414.37 329.3V332.0 M416.74 327.5V330.8 M419.10 325.6V328.4 M421.47 325.2V327.2 M423.84 324.8V326.5 M426.20 323.3V326.8 M428.57 323.3V326.8 M430.93 322.3V325.3 M433.30 323.3V324.8 M435.66 322.5V325.8 M438.03 328.8V334.5 M440.39 329.6V335.3 M442.76 331.7V334.9 M445.12 330.1V332.7 M447.49 329.0V331.5 M449.86 329.8V334.3 M452.22 330.8V337.5 M454.59 328.4V331.6 M456.95 326.8V329.3 M459.32 326.6V335.4 M461.68 324.0V328.4 M464.05 322.0V328.3 M466.41 329.2V334.4 M468.78 332.5V340.8 M471.14 331.1V335.0 M473.51 329.3V334.0 M475.88 325.2V332.1 M478.24 324.5V327.8 M480.61 324.2V327.4 M482.97 323.4V326.6 M485.34 321.5V325.9 M487.70 319.2V322.0 M490.07 319.1V322.8 M492.43 320.8V324.2 M494.80 321.1V322.9 M497.17 321.1V323.1 M499.53 320.6V323.4 M501.90 322.5V328.3 M504.26 322.4V324.2 M506.63 320.3V324.6 M508.99 320.1V322.7 M511.36 316.7V322.9 M513.72 311.5V318.9 M516.09 312.5V320.0 M518.45 312.3V318.7 M520.82 313.3V317.5 M523.19 313.2V317.2 M525.55 312.6V315.4 M527.92 311.8V314.3 M530.28 307.8V314.2 M532.65 303.3V316.4 M535.01 298.8V304.5 M537.38 297.0V301.2 M539.74 293.8V297.5 M542.11 292.9V296.7 M544.48 289.2V294.4 M546.84 287.3V291.8 M549.21 285.2V290.2 M551.57 283.4V286.6 M553.94 282.7V286.7 M556.30 282.9V288.6 M558.67 284.7V289.7 M561.03 284.0V288.4 M563.40 284.0V286.5 M565.76 285.0V288.3 M568.13 283.8V287.5 M570.50 277.3V286.7 M572.86 278.1V282.6 M575.23 279.1V280.9 M577.59 277.9V281.1 M579.96 278.4V281.6 M582.32 278.1V283.0 M584.69 276.7V279.9 M587.05 275.8V281.5 M589.42 273.8V279.5 M591.79 270.0V278.2 M594.15 272.3V276.8 M596.52 272.0V276.2 M598.88 272.9V278.6 M601.25 269.6V278.2 M603.61 260.9V271.5 M605.98 262.1V267.8 M608.34 263.4V269.1 M610.71 259.4V271.2 M613.08 259.8V264.3 M615.44 259.2V262.4 M617.81 254.9V263.6 M620.17 259.5V265.9 M622.54 249.7V267.6 M624.90 239.4V253.2 M627.27 239.9V243.9 M629.63 238.1V243.0 M632.00 233.6V240.5 M634.36 232.9V253.3 M636.73 241.9V246.9 M639.10 241.6V250.2 M641.46 245.4V249.6 M643.83 245.8V249.5 M646.19 236.7V254.6 M648.56 235.2V242.2 M650.92 231.7V240.0 M653.29 234.2V242.3 M655.65 229.4V249.1 M658.02 239.4V246.3 M660.38 240.2V245.2 M662.75 241.8V244.3 M665.12 237.5V244.2 M667.48 241.9V246.9 M669.85 236.7V242.9 M672.21 233.3V239.2 M674.58 234.8V239.3 M676.94 238.3V248.3 M679.31 241.7V250.3 M681.67 235.0V244.2 M684.04 237.1V247.7 M686.41 241.8V247.5 M688.77 242.3V246.8 M691.14 242.1V247.8 M693.50 245.0V254.2 M695.87 242.5V250.7 M698.23 236.1V249.8 M700.60 236.7V239.9 M702.96 234.5V237.8 M705.33 236.1V241.0 M707.69 238.8V244.1 M710.06 244.0V248.4 M712.43 245.0V248.3 M714.79 239.4V246.3 M717.16 229.6V248.0 M719.52 222.4V226.2 M721.89 221.9V226.9 M724.25 222.9V238.4 M726.62 223.6V235.4 M728.98 223.6V235.4 M731.35 215.0V224.2 M733.72 212.9V219.2 M736.08 211.7V216.2 M738.45 207.9V214.2 M740.81 200.0V211.7 M743.18 191.2V199.6 M745.54 184.3V197.5 M747.91 189.0V200.4 M750.27 233.8V250.4 M752.64 231.7V252.5 M755.00 225.4V237.1 M757.37 215.4V228.2 M759.74 215.4V224.2 M762.10 226.7V236.2 M764.47 227.1V235.4 M766.83 225.0V230.4 M769.20 220.0V227.9 M771.56 214.3V222.9 M773.93 215.8V223.3 M776.29 219.6V225.0 M778.66 221.2V229.6 M781.03 220.8V229.6 M783.39 224.6V231.2 M785.76 221.2V228.8 M788.12 222.1V225.8 M790.49 217.5V233.3 M792.85 230.8V247.9 M795.22 247.1V255.0 M797.58 250.8V261.7 M799.95 239.2V246.7 M802.31 236.2V250.4 M804.68 242.5V250.4 M807.05 242.5V254.2 M809.41 250.8V264.2 M811.78 250.5V255.7 M814.14 255.0V268.1 M816.51 263.9V269.1 M818.87 272.9V278.6 M821.24 265.8V278.9 M823.60 259.0V263.4 M825.97 260.8V269.2 M828.34 252.5V260.7 M830.70 241.1V257.8 M833.07 245.0V251.2 M835.43 238.3V248.3 M837.80 241.3V247.0 M840.16 242.3V246.8 M842.53 235.8V241.7 M844.89 237.3V243.7 M847.26 240.9V253.9 M849.62 254.9V261.6 M851.99 259.2V262.4 M854.36 255.4V269.0 M856.72 253.8V259.5 M859.09 240.9V261.3 M861.45 256.4V264.5 M863.82 268.3V285.8 M866.18 266.9V288.5 M868.55 256.3V271.8 M870.91 241.1V274.4 M873.28 253.7V257.9 M875.65 254.0V258.4 M878.01 242.1V252.7 M880.38 245.6V250.1 M882.74 244.0V253.3 M885.11 241.9V248.8 M887.47 248.3V258.3 M889.84 247.3V251.8 M892.20 230.6V244.9 M894.57 228.3V240.8 M896.93 220.6V233.0 M899.30 220.0V229.2 M901.67 223.3V226.6 M904.03 222.1V232.7 M906.40 215.6V220.1 M908.76 207.5V215.7 M911.13 206.9V213.8 M913.49 206.7V212.9 M915.86 204.0V210.4 M918.22 199.6V215.1 M920.59 209.2V215.0 M922.96 200.0V203.3 M925.32 193.7V199.9 M927.69 186.7V192.9 M930.05 191.3V194.0 M932.42 190.8V196.1 M934.78 180.6V199.8 M937.15 181.1V188.0 M939.51 175.8V183.3 M941.88 176.1V183.0 M944.25 174.0V178.4 M946.61 169.0V173.4 M948.98 160.4V175.9 M951.34 162.5V176.7 M953.71 168.4V174.1 M956.07 162.3V171.7 M958.44 158.3V161.6 M960.80 156.3V163.3 M963.17 160.6V165.1 M965.53 161.9V166.9 M967.90 157.7V169.6 M970.27 164.2V177.5 M972.63 162.9V173.5 M975.00 161.9V168.8 M977.36 164.8V169.3 M979.73 159.8V169.2 M982.09 160.8V166.1 M984.46 160.9V163.7 M986.82 157.3V166.7 M989.19 154.2V165.3 M991.55 148.1V157.5 M993.92 144.7V155.8 M996.29 151.7V154.9 M998.65 139.7V153.3 M1001.02 139.8V144.3 M1003.38 141.7V165.0 M1005.75 151.3V157.0 M1008.11 145.6V152.1 M1010.48 138.1V149.5 M1012.84 136.7V150.0 M1015.21 132.5V137.5 M1017.58 134.2V145.8 M1019.94 133.8V137.5 M1022.31 126.0V131.0 M1024.67 124.2V127.4 M1027.04 121.2V129.2 M1029.40 113.3V121.2 M1031.77 115.0V121.2 M1034.13 115.4V122.5 M1036.50 125.0V134.2 M1038.87 86.2V111.7" stroke="#484848" stroke-width="0.55" fill="none"/>
<path d="M257.55 350.0H258.95V358.3H257.55Z M259.92 346.7H261.32V348.7H259.92Z M262.28 344.2H263.68V345.8H262.28Z M274.11 351.7H275.51V353.7H274.11Z M276.47 349.2H277.87V351.7H276.47Z M278.84 346.3H280.24V350.8H278.84Z M283.57 346.6H284.97V347.4H283.57Z M290.67 348.0H292.07V349.7H290.67Z M297.76 347.2H299.16V348.2H297.76Z M300.13 341.7H301.53V346.7H300.13Z M302.49 342.0H303.89V343.0H302.49Z M304.86 340.8H306.26V344.7H304.86Z M307.23 337.5H308.63V338.7H307.23Z M309.59 335.3H310.99V338.3H309.59Z M316.69 337.9H318.09V338.7H316.69Z M319.05 330.8H320.45V337.5H319.05Z M321.42 329.7H322.82V331.3H321.42Z M328.52 330.8H329.92V332.5H328.52Z M335.61 332.0H337.01V334.3H335.61Z M340.34 330.4H341.74V331.1H340.34Z M345.07 332.9H346.47V333.7H345.07Z M347.44 332.9H348.84V333.6H347.44Z M349.80 332.5H351.20V333.3H349.80Z M354.54 325.8H355.94V331.7H354.54Z M356.90 324.7H358.30V326.0H356.90Z M361.63 326.0H363.03V327.0H361.63Z M375.82 333.7H377.22V336.0H375.82Z M378.19 331.7H379.59V334.2H378.19Z M380.56 331.3H381.96V332.7H380.56Z M382.92 326.7H384.32V329.7H382.92Z M390.02 327.9H391.42V328.6H390.02Z M392.38 324.2H393.78V328.3H392.38Z M397.11 325.9H398.51V326.6H397.11Z M399.48 325.0H400.88V326.7H399.48Z M401.85 324.2H403.25V325.0H401.85Z M416.04 328.3H417.44V330.0H416.04Z M418.40 326.3H419.80V327.7H418.40Z M420.77 325.8H422.17V326.7H420.77Z M423.14 325.3H424.54V326.1H423.14Z M425.50 324.2H426.90V326.0H425.50Z M430.23 323.3H431.63V325.0H430.23Z M432.60 323.7H434.00V324.5H432.60Z M442.06 332.5H443.46V334.2H442.06Z M444.42 330.8H445.82V332.0H444.42Z M446.79 329.7H448.19V330.8H446.79Z M453.89 329.2H455.29V330.8H453.89Z M456.25 327.5H457.65V328.7H456.25Z M460.98 325.0H462.38V327.5H460.98Z M468.08 333.3H469.48V340.0H468.08Z M470.44 332.0H471.84V334.2H470.44Z M475.18 326.7H476.58V330.8H475.18Z M477.54 325.3H478.94V327.0H477.54Z M482.27 324.2H483.67V325.8H482.27Z M484.64 322.5H486.04V325.0H484.64Z M487.00 319.7H488.40V320.8H487.00Z M494.10 321.6H495.50V322.4H494.10Z M496.47 321.7H497.87V322.5H496.47Z M501.20 323.0H502.60V324.2H501.20Z M503.56 322.9H504.96V323.7H503.56Z M505.93 321.3H507.33V323.7H505.93Z M508.29 320.8H509.69V322.0H508.29Z M510.66 318.0H512.06V321.7H510.66Z M513.02 313.0H514.42V317.5H513.02Z M520.12 313.7H521.52V315.8H520.12Z M524.85 313.3H526.25V314.7H524.85Z M527.22 312.5H528.62V313.7H527.22Z M529.58 309.2H530.98V313.0H529.58Z M531.95 305.8H533.35V314.2H531.95Z M534.31 300.0H535.71V303.3H534.31Z M536.68 298.0H538.08V300.3H536.68Z M539.04 294.7H540.44V296.7H539.04Z M543.78 290.3H545.18V293.3H543.78Z M546.14 288.3H547.54V290.8H546.14Z M548.51 286.3H549.91V289.2H548.51Z M550.87 284.2H552.27V285.8H550.87Z M560.33 285.0H561.73V287.5H560.33Z M562.70 284.7H564.10V285.8H562.70Z M565.06 285.8H566.47V287.5H565.06Z M567.43 284.7H568.83V286.7H567.43Z M569.80 279.2H571.20V285.0H569.80Z M574.53 279.6H575.93V280.4H574.53Z M576.89 278.7H578.29V280.3H576.89Z M581.62 279.2H583.02V282.0H581.62Z M583.99 277.5H585.39V279.2H583.99Z M588.72 275.0H590.12V278.3H588.72Z M595.82 273.0H597.22V275.3H595.82Z M598.18 274.2H599.58V277.5H598.18Z M600.55 271.3H601.95V276.7H600.55Z M602.91 263.0H604.31V269.7H602.91Z M610.01 261.7H611.41V269.2H610.01Z M612.38 260.8H613.78V263.3H612.38Z M614.74 260.0H616.14V261.7H614.74Z M621.84 253.0H623.24V264.7H621.84Z M624.20 242.0H625.60V250.8H624.20Z M628.93 239.2H630.33V242.0H628.93Z M631.30 235.0H632.70V239.2H631.30Z M643.13 246.7H644.53V248.7H643.13Z M645.49 240.0H646.89V251.7H645.49Z M650.22 234.7H651.62V239.2H650.22Z M659.68 241.3H661.09V244.2H659.68Z M662.05 242.5H663.45V243.7H662.05Z M664.42 241.3H665.82V243.3H664.42Z M669.15 238.0H670.55V241.7H669.15Z M671.51 235.0H672.91V238.3H671.51Z M688.07 243.3H689.47V245.8H688.07Z M695.17 244.2H696.57V249.2H695.17Z M697.53 238.7H698.93V247.5H697.53Z M699.90 237.5H701.30V239.2H699.90Z M702.26 235.3H703.66V237.0H702.26Z M709.36 245.0H710.76V247.5H709.36Z M711.73 245.8H713.13V247.5H711.73Z M714.09 240.8H715.49V245.0H714.09Z M716.46 233.0H717.86V245.0H716.46Z M718.82 223.3H720.22V225.3H718.82Z M723.55 225.8H724.95V235.8H723.55Z M725.92 225.8H727.32V233.3H725.92Z M728.28 225.8H729.68V233.3H728.28Z M730.65 217.9H732.05V222.1H730.65Z M737.75 208.2H739.15V213.2H737.75Z M740.11 200.0H741.51V206.8H740.11Z M744.84 189.8H746.24V196.2H744.84Z M751.94 232.1H753.34V233.0H751.94Z M756.67 218.3H758.07V227.9H756.67Z M761.40 229.2H762.80V235.8H761.40Z M766.13 226.2H767.53V228.8H766.13Z M768.50 222.1H769.90V227.5H768.50Z M773.23 217.1H774.63V218.8H773.23Z M777.96 225.0H779.36V227.9H777.96Z M785.06 222.9H786.46V227.1H785.06Z M787.42 222.5H788.82V225.0H787.42Z M796.88 251.7H798.28V258.0H796.88Z M799.25 242.6H800.65V243.4H799.25Z M803.98 242.9H805.38V249.6H803.98Z M808.71 254.2H810.11V258.3H808.71Z M811.08 251.7H812.48V254.7H811.08Z M820.54 268.3H821.94V276.7H820.54Z M825.27 261.3H826.67V263.3H825.27Z M827.64 254.2H829.04V259.2H827.64Z M830.00 244.2H831.40V255.0H830.00Z M834.73 242.5H836.13V247.5H834.73Z M837.10 242.5H838.50V245.8H837.10Z M839.46 243.3H840.86V245.8H839.46Z M841.83 239.6H843.23V240.4H841.83Z M853.66 258.0H855.06V266.7H853.66Z M856.02 255.0H857.42V258.3H856.02Z M858.39 244.7H859.79V258.0H858.39Z M865.48 270.8H866.88V285.0H865.48Z M870.21 247.0H871.61V269.2H870.21Z M874.95 255.0H876.35V257.5H874.95Z M879.68 246.7H881.08V249.2H879.68Z M882.04 245.8H883.44V251.7H882.04Z M889.14 248.3H890.54V250.8H889.14Z M893.87 234.2H895.27V240.0H893.87Z M896.23 223.0H897.63V230.8H896.23Z M898.60 225.0H900.00V227.5H898.60Z M900.97 224.2H902.37V225.8H900.97Z M903.33 224.2H904.73V230.8H903.33Z M908.06 209.2H909.46V214.2H908.06Z M910.43 208.3H911.83V212.5H910.43Z M912.79 208.0H914.19V211.7H912.79Z M915.16 205.3H916.56V209.2H915.16Z M919.89 209.7H921.29V211.7H919.89Z M922.26 200.8H923.66V202.5H922.26Z M924.62 195.0H926.02V198.7H924.62Z M934.08 184.2H935.48V196.7H934.08Z M936.45 182.5H937.85V186.7H936.45Z M938.81 180.8H940.21V182.0H938.81Z M941.18 177.5H942.58V181.7H941.18Z M943.54 175.0H944.95V177.5H943.54Z M945.91 170.0H947.31V172.5H945.91Z M948.28 163.3H949.68V173.3H948.28Z M953.01 169.7H954.41V173.0H953.01Z M955.37 164.2H956.77V170.0H955.37Z M971.93 165.0H973.33V171.7H971.93Z M974.30 163.3H975.70V167.5H974.30Z M976.66 165.8H978.06V168.3H976.66Z M979.03 161.7H980.43V167.5H979.03Z M981.39 162.0H982.79V165.0H981.39Z M983.76 161.7H985.16V163.0H983.76Z M988.49 156.3H989.89V163.3H988.49Z M990.85 150.0H992.25V155.8H990.85Z M997.95 145.8H999.35V152.5H997.95Z M1000.32 140.8H1001.72V143.3H1000.32Z M1005.05 152.5H1006.45V155.8H1005.05Z M1007.41 147.0H1008.81V150.8H1007.41Z M1009.78 140.3H1011.18V147.5H1009.78Z M1014.51 135.0H1015.91V136.7H1014.51Z M1016.88 134.7H1018.28V136.7H1016.88Z M1019.24 134.7H1020.64V136.7H1019.24Z M1021.61 127.1H1023.01V130.0H1021.61Z M1023.97 125.0H1025.37V126.7H1023.97Z M1026.34 124.2H1027.74V125.4H1026.34Z M1028.70 119.2H1030.10V120.8H1028.70Z M1031.07 117.1H1032.47V120.0H1031.07Z M1038.16 87.9H1039.57V106.7H1038.16Z" fill="#1fb673" stroke="#1fb673" stroke-width="0.3"/>
<path d="M264.65 344.2H266.05V345.3H264.65Z M267.01 344.2H268.41V347.0H267.01Z M269.38 346.7H270.78V353.3H269.38Z M271.74 353.3H273.14V355.0H271.74Z M281.20 346.3H282.60V347.5H281.20Z M285.94 348.3H287.34V350.3H285.94Z M288.30 349.2H289.70V350.2H288.30Z M293.03 346.7H294.43V348.0H293.03Z M295.40 347.2H296.80V348.5H295.40Z M311.96 336.3H313.36V338.7H311.96Z M314.32 338.0H315.72V339.5H314.32Z M323.78 329.7H325.18V331.0H323.78Z M326.15 331.3H327.55V333.5H326.15Z M330.88 330.0H332.28V331.3H330.88Z M333.25 332.0H334.65V334.3H333.25Z M337.98 329.7H339.38V331.0H337.98Z M342.71 331.3H344.11V333.5H342.71Z M352.17 331.7H353.57V334.2H352.17Z M359.27 325.8H360.67V326.7H359.27Z M364.00 325.0H365.40V328.3H364.00Z M366.36 325.0H367.76V329.3H366.36Z M368.73 331.3H370.13V333.7H368.73Z M371.09 332.5H372.49V334.3H371.09Z M373.46 333.3H374.86V336.0H373.46Z M385.29 324.2H386.69V326.8H385.29Z M387.65 327.5H389.05V328.5H387.65Z M394.75 325.0H396.15V326.5H394.75Z M404.21 324.2H405.61V326.0H404.21Z M406.58 325.3H407.98V326.8H406.58Z M408.94 328.0H410.34V329.8H408.94Z M411.31 329.2H412.71V330.2H411.31Z M413.67 329.7H415.07V331.0H413.67Z M427.87 324.2H429.27V326.0H427.87Z M434.96 323.7H436.36V325.5H434.96Z M437.33 330.0H438.73V333.3H437.33Z M439.69 330.8H441.09V334.2H439.69Z M449.16 330.8H450.56V333.3H449.16Z M451.52 331.7H452.92V335.8H451.52Z M458.62 328.3H460.02V333.8H458.62Z M463.35 323.0H464.75V327.5H463.35Z M465.71 330.3H467.11V333.3H465.71Z M472.81 330.3H474.21V333.0H472.81Z M479.91 325.0H481.31V326.7H479.91Z M489.37 320.0H490.77V322.0H489.37Z M491.73 321.3H493.13V323.0H491.73Z M498.83 321.3H500.23V322.7H498.83Z M515.39 313.7H516.79V318.3H515.39Z M517.75 313.7H519.15V317.5H517.75Z M522.49 314.2H523.89V316.3H522.49Z M541.41 293.8H542.81V295.8H541.41Z M553.24 283.7H554.64V285.8H553.24Z M555.60 284.2H557.00V287.5H555.60Z M557.97 285.8H559.37V288.7H557.97Z M572.16 279.2H573.56V281.7H572.16Z M579.26 279.2H580.66V280.8H579.26Z M586.35 277.0H587.75V280.3H586.35Z M591.09 271.7H592.49V276.7H591.09Z M593.45 273.3H594.85V275.8H593.45Z M605.28 263.3H606.68V266.7H605.28Z M607.64 264.7H609.04V268.0H607.64Z M617.11 256.7H618.51V262.0H617.11Z M619.47 260.8H620.87V264.7H619.47Z M626.57 240.8H627.97V243.0H626.57Z M633.66 236.7H635.06V250.0H633.66Z M636.03 243.0H637.43V245.8H636.03Z M638.40 243.3H639.80V248.7H638.40Z M640.76 246.3H642.16V248.7H640.76Z M647.86 236.7H649.26V240.8H647.86Z M652.59 235.8H653.99V240.8H652.59Z M654.95 233.0H656.35V245.8H654.95Z M657.32 240.8H658.72V245.0H657.32Z M666.78 243.0H668.18V245.8H666.78Z M673.88 235.8H675.28V238.3H673.88Z M676.24 239.2H677.64V246.7H676.24Z M678.61 243.0H680.01V247.5H678.61Z M680.97 237.5H682.37V243.3H680.97Z M683.34 239.2H684.74V245.8H683.34Z M685.71 243.0H687.11V246.3H685.71Z M690.44 243.3H691.84V246.7H690.44Z M692.80 246.3H694.20V252.5H692.80Z M704.63 237.2H706.03V240.0H704.63Z M706.99 240.0H708.39V243.0H706.99Z M721.19 223.0H722.59V225.8H721.19Z M733.02 213.2H734.42V216.7H733.02Z M735.38 212.3H736.78V214.0H735.38Z M742.48 193.2H743.88V195.0H742.48Z M747.21 189.0H748.61V198.8H747.21Z M749.57 240.0H750.97V245.8H749.57Z M754.30 231.2H755.71V232.9H754.30Z M759.04 216.2H760.44V223.8H759.04Z M763.77 229.2H765.17V232.1H763.77Z M770.86 219.6H772.26V220.8H770.86Z M775.59 220.0H776.99V223.8H775.59Z M780.33 221.2H781.73V224.6H780.33Z M782.69 225.0H784.09V227.1H782.69Z M789.79 224.6H791.19V229.2H789.79Z M792.15 231.2H793.55V247.5H792.15Z M794.52 247.5H795.92V253.8H794.52Z M801.61 237.1H803.01V247.5H801.61Z M806.35 242.9H807.75V253.8H806.35Z M813.44 257.5H814.84V265.8H813.44Z M815.81 265.0H817.21V268.0H815.81Z M818.17 274.2H819.57V277.5H818.17Z M822.90 260.0H824.30V262.5H822.90Z M832.37 246.3H833.77V250.0H832.37Z M844.19 238.7H845.59V242.5H844.19Z M846.56 243.3H847.96V251.7H846.56Z M848.92 256.3H850.33V260.3H848.92Z M851.29 260.0H852.69V261.7H851.29Z M860.75 258.0H862.15V263.0H860.75Z M863.12 273.3H864.52V277.0H863.12Z M867.85 259.2H869.25V269.2H867.85Z M872.58 254.7H873.98V257.0H872.58Z M877.31 244.2H878.71V250.8H877.31Z M884.41 243.3H885.81V247.5H884.41Z M886.77 250.8H888.17V253.3H886.77Z M891.50 233.3H892.90V242.5H891.50Z M905.70 216.7H907.10V219.2H905.70Z M917.52 202.5H918.92V212.5H917.52Z M926.99 188.0H928.39V191.7H926.99Z M929.35 192.0H930.75V193.3H929.35Z M931.72 192.0H933.12V195.0H931.72Z M950.64 163.0H952.04V172.5H950.64Z M957.74 159.2H959.14V160.8H957.74Z M960.10 159.2H961.50V162.5H960.10Z M962.47 161.7H963.87V164.2H962.47Z M964.83 163.0H966.23V165.8H964.83Z M967.20 160.0H968.60V167.5H967.20Z M969.57 165.0H970.97V173.3H969.57Z M986.12 159.2H987.52V165.0H986.12Z M993.22 148.3H994.62V155.3H993.22Z M995.59 152.5H996.99V154.2H995.59Z M1002.68 143.0H1004.08V153.3H1002.68Z M1012.14 138.0H1013.54V140.8H1012.14Z M1033.43 116.0H1034.83V121.7H1033.43Z M1035.80 125.4H1037.20V130.0H1035.80Z" fill="#fe4547" stroke="#fe4547" stroke-width="0.3"/>
<path d="M728.3 300.3C730.9 299.5 738.7 296.9 744.0 295.5C749.3 294.1 754.5 293.3 760.0 292.0C765.5 290.7 771.2 289.0 776.7 287.5C782.2 286.0 786.4 284.6 793.3 283.0C800.2 281.4 810.0 279.6 818.3 278.0C826.6 276.4 835.0 275.0 843.3 273.7C851.6 272.4 862.2 270.8 868.3 270.0C874.4 269.2 875.3 269.4 880.0 268.7C884.7 268.0 891.6 266.7 896.7 265.8C901.8 264.9 906.6 264.3 910.8 263.3C915.0 262.3 917.1 261.1 921.7 259.7C926.3 258.3 932.8 256.4 938.3 254.7C943.8 252.9 950.1 250.8 955.0 249.2C959.9 247.6 962.2 247.1 967.8 245.3C973.3 243.5 982.1 240.4 988.3 238.3C994.5 236.2 999.4 234.7 1005.0 232.8C1010.6 231.0 1016.0 229.0 1021.7 227.2C1027.4 225.3 1036.3 222.6 1039.2 221.7" fill="none" stroke="#008000" stroke-width="1.9" stroke-linejoin="round"/>
<path d="M373.3 338.7C376.1 338.2 384.4 336.8 390.0 335.8C395.6 334.9 401.1 333.9 406.7 333.0C412.2 332.1 417.8 331.2 423.3 330.5C428.9 329.8 431.7 329.2 440.0 328.8C448.3 328.4 464.1 328.2 473.3 328.0C482.5 327.8 488.1 327.9 495.0 327.5C501.9 327.1 508.6 325.9 515.0 325.3C521.4 324.7 528.6 324.4 533.3 323.7C538.0 322.9 539.4 322.0 543.3 320.8C547.2 319.6 552.2 318.3 556.7 316.7C561.2 315.1 565.6 313.3 570.0 311.3C574.4 309.3 578.3 307.1 583.3 304.7C588.3 302.3 595.0 299.1 600.0 296.7C605.0 294.2 608.8 292.1 613.3 290.0C617.8 287.9 622.2 286.2 626.7 284.0C631.2 281.8 635.0 279.2 640.0 276.5C645.0 273.8 651.2 270.2 656.7 267.5C662.2 264.8 667.2 262.4 673.3 260.0C679.4 257.6 686.6 255.2 693.3 253.0C700.0 250.8 706.9 248.9 713.3 246.7C719.7 244.5 725.6 242.1 731.7 240.0C737.8 237.9 744.2 235.6 750.0 234.2C755.8 232.8 762.2 231.9 766.7 231.3C771.2 230.7 771.7 231.2 776.7 230.8C781.7 230.5 790.3 229.3 796.7 229.2C803.1 229.1 809.5 229.7 815.0 230.3C820.5 230.9 824.7 232.2 830.0 233.0C835.3 233.8 842.5 234.1 846.7 235.0C850.9 235.9 852.0 236.9 855.0 238.3C858.0 239.7 861.4 242.1 865.0 243.3C868.6 244.6 872.5 245.0 876.7 245.8C880.9 246.6 886.1 247.4 890.0 248.0C893.9 248.6 897.0 249.1 900.0 249.2C903.0 249.3 905.5 249.3 908.3 248.7C911.1 248.1 913.6 247.0 916.7 245.8C919.8 244.6 923.4 243.4 926.7 241.7C930.0 240.0 933.4 238.0 936.7 235.8C940.0 233.6 943.2 230.9 946.7 228.3C950.2 225.7 953.3 222.9 957.5 220.0C961.7 217.1 966.6 214.4 971.7 210.8C976.8 207.2 982.8 202.7 988.3 198.3C993.8 193.9 1000.8 187.8 1005.0 184.2C1009.2 180.6 1009.7 179.8 1013.3 176.7C1016.9 173.6 1022.4 169.2 1026.7 165.8C1031.0 162.4 1037.1 157.9 1039.2 156.3" fill="none" stroke="#ffa500" stroke-width="1.9" stroke-linejoin="round"/>
<path d="M301.7 347.8C304.8 347.1 314.7 344.9 320.0 343.3C325.3 341.7 328.9 339.8 333.3 338.3C337.8 336.8 341.7 335.6 346.7 334.2C351.7 332.8 358.9 330.7 363.3 330.0C367.7 329.3 370.0 329.9 373.3 330.0C376.6 330.1 379.4 330.6 383.3 330.5C387.2 330.4 392.2 329.5 396.7 329.2C401.1 328.9 405.6 328.9 410.0 328.7C414.4 328.5 419.1 328.3 423.3 328.0C427.5 327.7 432.2 326.9 435.0 326.7C437.8 326.5 436.4 326.7 440.0 326.9C443.6 327.1 451.1 327.7 456.7 328.0C462.2 328.3 468.6 328.4 473.3 328.7C478.0 328.9 481.4 329.7 485.0 329.5C488.6 329.3 490.8 328.4 495.0 327.5C499.2 326.6 505.3 325.4 510.0 324.2C514.7 323.0 519.4 321.5 523.3 320.3C527.2 319.1 530.5 318.3 533.3 317.2C536.1 316.1 537.2 315.4 540.0 313.7C542.8 312.0 547.2 308.9 550.0 307.0C552.8 305.1 553.9 304.1 556.7 302.2C559.5 300.2 563.4 297.4 566.7 295.3C570.0 293.2 573.4 291.6 576.7 289.7C580.0 287.8 584.5 285.4 586.7 284.2C588.9 283.0 587.5 283.3 590.0 282.5C592.5 281.7 597.8 280.7 601.7 279.2C605.6 277.7 609.1 275.5 613.3 273.3C617.5 271.1 622.2 268.6 626.7 265.8C631.2 263.0 635.3 259.8 640.0 256.7C644.7 253.6 650.0 249.9 655.0 247.5C660.0 245.1 665.3 242.9 670.0 242.0C674.7 241.1 678.8 241.9 683.3 242.0C687.8 242.1 691.4 242.5 696.7 242.5C702.0 242.5 709.7 242.7 715.0 242.0C720.3 241.3 724.4 240.2 728.3 238.3C732.2 236.4 735.1 233.5 738.3 230.8C741.5 228.1 745.1 223.5 747.5 222.0C749.9 220.5 750.1 222.6 752.5 222.0C754.9 221.4 758.2 219.2 761.7 218.7C765.2 218.2 769.7 219.1 773.3 219.2C776.9 219.3 780.8 219.1 783.3 219.5C785.8 219.9 786.3 220.4 788.3 221.7C790.2 223.0 792.5 226.0 795.0 227.5C797.5 229.0 800.2 229.3 803.3 230.8C806.3 232.3 810.2 234.5 813.3 236.7C816.4 238.9 819.2 242.0 821.7 244.2C824.2 246.4 825.5 248.5 828.3 250.0C831.1 251.5 835.5 252.9 838.3 253.3C841.1 253.7 841.9 252.4 845.0 252.5C848.1 252.6 852.0 253.6 856.7 253.8C861.4 254.0 868.3 253.8 873.3 253.7C878.3 253.6 883.5 253.2 886.7 253.3C889.9 253.4 890.6 254.8 892.5 254.2C894.4 253.6 895.9 251.8 898.3 250.0C900.7 248.2 903.9 246.1 906.7 243.3C909.5 240.5 911.7 237.2 915.0 233.3C918.3 229.4 922.2 225.1 926.7 220.0C931.2 214.9 937.0 207.8 941.7 202.5C946.4 197.2 950.4 193.0 955.0 188.3C959.6 183.6 965.0 177.4 969.2 174.2C973.4 171.0 976.0 171.0 980.0 169.2C984.0 167.4 989.4 164.9 993.3 163.3C997.2 161.7 1000.2 160.8 1003.3 159.5C1006.4 158.2 1008.6 157.7 1011.7 155.8C1014.8 153.9 1018.7 150.7 1021.7 148.3C1024.8 146.0 1027.1 144.1 1030.0 141.7C1032.9 139.3 1037.7 135.0 1039.2 133.7" fill="none" stroke="#0000ff" stroke-width="1.9" stroke-linejoin="round"/>
<path d="M258.5 493v4.5 M376.5 493v4.5 M494.5 493v4.5 M613.5 493v4.5 M731.5 493v4.5 M849.5 493v4.5 M967.5 493v4.5 M1081 366.5h4.5 M1081 314.5h4.5 M1081 261.5h4.5 M1081 208.5h4.5 M1081 156.5h4.5 M1081 103.5h4.5 M1081 463.5h4.5 M1081 433.5h4.5 M1081 403.5h4.5 M1081 372.5h4.5" stroke="#101010" stroke-width="1" fill="none" shape-rendering="crispEdges"/>
<rect x="223.5" y="79.5" width="133" height="67" rx="3" ry="3" fill="#fafafa" fill-opacity="0.8" stroke="#cccccc" stroke-width="1"/>
<path d="M228.5 91H257" stroke="#0000ff" stroke-width="2.1"/>
<text x="267" y="96" font-size="14.2" fill="#000" textLength="74" lengthAdjust="spacingAndGlyphs">20-day MA</text>
<path d="M228.5 112H257" stroke="#ffa500" stroke-width="2.1"/>
<text x="267" y="117" font-size="14.2" fill="#000" textLength="74" lengthAdjust="spacingAndGlyphs">50-day MA</text>
<path d="M228.5 133H257" stroke="#008000" stroke-width="2.1"/>
<text x="267" y="138" font-size="14.2" fill="#000" textLength="82.5" lengthAdjust="spacingAndGlyphs">200-day MA</text>
<text x="1090.5" y="371.7" font-size="14.2" fill="#101010" textLength="25" lengthAdjust="spacingAndGlyphs">100</text>
<text x="1090.5" y="319.7" font-size="14.2" fill="#101010" textLength="25" lengthAdjust="spacingAndGlyphs">200</text>
<text x="1090.5" y="266.7" font-size="14.2" fill="#101010" textLength="25" lengthAdjust="spacingAndGlyphs">300</text>
<text x="1090.5" y="213.7" font-size="14.2" fill="#101010" textLength="25" lengthAdjust="spacingAndGlyphs">400</text>
<text x="1090.5" y="161.7" font-size="14.2" fill="#101010" textLength="25" lengthAdjust="spacingAndGlyphs">500</text>
<text x="1090.5" y="108.7" font-size="14.2" fill="#101010" textLength="25" lengthAdjust="spacingAndGlyphs">600</text>
<text x="1090.5" y="468.7" font-size="14.2" fill="#101010" textLength="7.9" lengthAdjust="spacingAndGlyphs">5</text>
<text x="1090.5" y="438.7" font-size="14.2" fill="#101010" textLength="16.2" lengthAdjust="spacingAndGlyphs">10</text>
<text x="1090.5" y="408.7" font-size="14.2" fill="#101010" textLength="16.2" lengthAdjust="spacingAndGlyphs">15</text>
<text x="1090.5" y="377.7" font-size="14.2" fill="#101010" textLength="16.2" lengthAdjust="spacingAndGlyphs">20</text>
<text transform="translate(1132.8,224.5) rotate(-90)" text-anchor="middle" font-size="14.2" fill="#101010">Price</text>
<text transform="translate(1127.3,474.8) rotate(-90)" font-size="14.2" fill="#101010" textLength="51.8" lengthAdjust="spacingAndGlyphs">Volume</text>
<text transform="translate(1127.3,412.6) rotate(-90)" font-size="14.2" fill="#101010" textLength="16.6" lengthAdjust="spacingAndGlyphs">10</text>
<text transform="translate(1121.6,396.9) rotate(-90)" font-size="10.8" fill="#101010" textLength="6.8" lengthAdjust="spacingAndGlyphs">6</text>
<text transform="translate(256.4,538.5) rotate(-45)" text-anchor="middle" font-size="13.8" fill="#101010" textLength="86" lengthAdjust="spacingAndGlyphs" dy="4.6">2024-Mar-27</text>
<text transform="translate(374.4,538.5) rotate(-45)" text-anchor="middle" font-size="13.8" fill="#101010" textLength="86" lengthAdjust="spacingAndGlyphs" dy="4.6">2024-Jun-07</text>
<text transform="translate(492.4,538.5) rotate(-45)" text-anchor="middle" font-size="13.8" fill="#101010" textLength="86" lengthAdjust="spacingAndGlyphs" dy="4.6">2024-Aug-20</text>
<text transform="translate(611.4,538.5) rotate(-45)" text-anchor="middle" font-size="13.8" fill="#101010" textLength="86" lengthAdjust="spacingAndGlyphs" dy="4.6">2024-Oct-30</text>
<text transform="translate(729.4,538.5) rotate(-45)" text-anchor="middle" font-size="13.8" fill="#101010" textLength="86" lengthAdjust="spacingAndGlyphs" dy="4.6">2025-Jan-14</text>
<text transform="translate(847.4,538.5) rotate(-45)" text-anchor="middle" font-size="13.8" fill="#101010" textLength="86" lengthAdjust="spacingAndGlyphs" dy="4.6">2025-Mar-27</text>
<text transform="translate(965.4,538.5) rotate(-45)" text-anchor="middle" font-size="13.8" fill="#101010" textLength="86" lengthAdjust="spacingAndGlyphs" dy="4.6">2025-Jun-09</text>
<text x="314.70" y="18" font-size="20" font-weight="bold" fill="#000" textLength="46.85" lengthAdjust="spacingAndGlyphs">GEV</text>
<text x="368.45" y="18" font-size="20" font-weight="bold" fill="#000" textLength="56.10" lengthAdjust="spacingAndGlyphs">Daily</text>
<text x="431.70" y="18" font-size="20" font-weight="bold" fill="#000" textLength="129.10" lengthAdjust="spacingAndGlyphs">Candlestick</text>
<text x="568.70" y="18" font-size="20" font-weight="bold" fill="#000" textLength="62.30" lengthAdjust="spacingAndGlyphs">Chart</text>
<text x="637.70" y="18" font-size="20" font-weight="bold" fill="#000" textLength="48.60" lengthAdjust="spacingAndGlyphs">with</text>
<text x="694.20" y="18" font-size="20" font-weight="bold" fill="#000" textLength="46.60" lengthAdjust="spacingAndGlyphs">MAs</text>
<text x="748.70" y="18" font-size="20" font-weight="bold" fill="#000" textLength="36.60" lengthAdjust="spacingAndGlyphs">(18</text>
<text x="792.95" y="18" font-size="20" font-weight="bold" fill="#000" textLength="92.85" lengthAdjust="spacingAndGlyphs">Months)</text>
</svg>
</body></html>
